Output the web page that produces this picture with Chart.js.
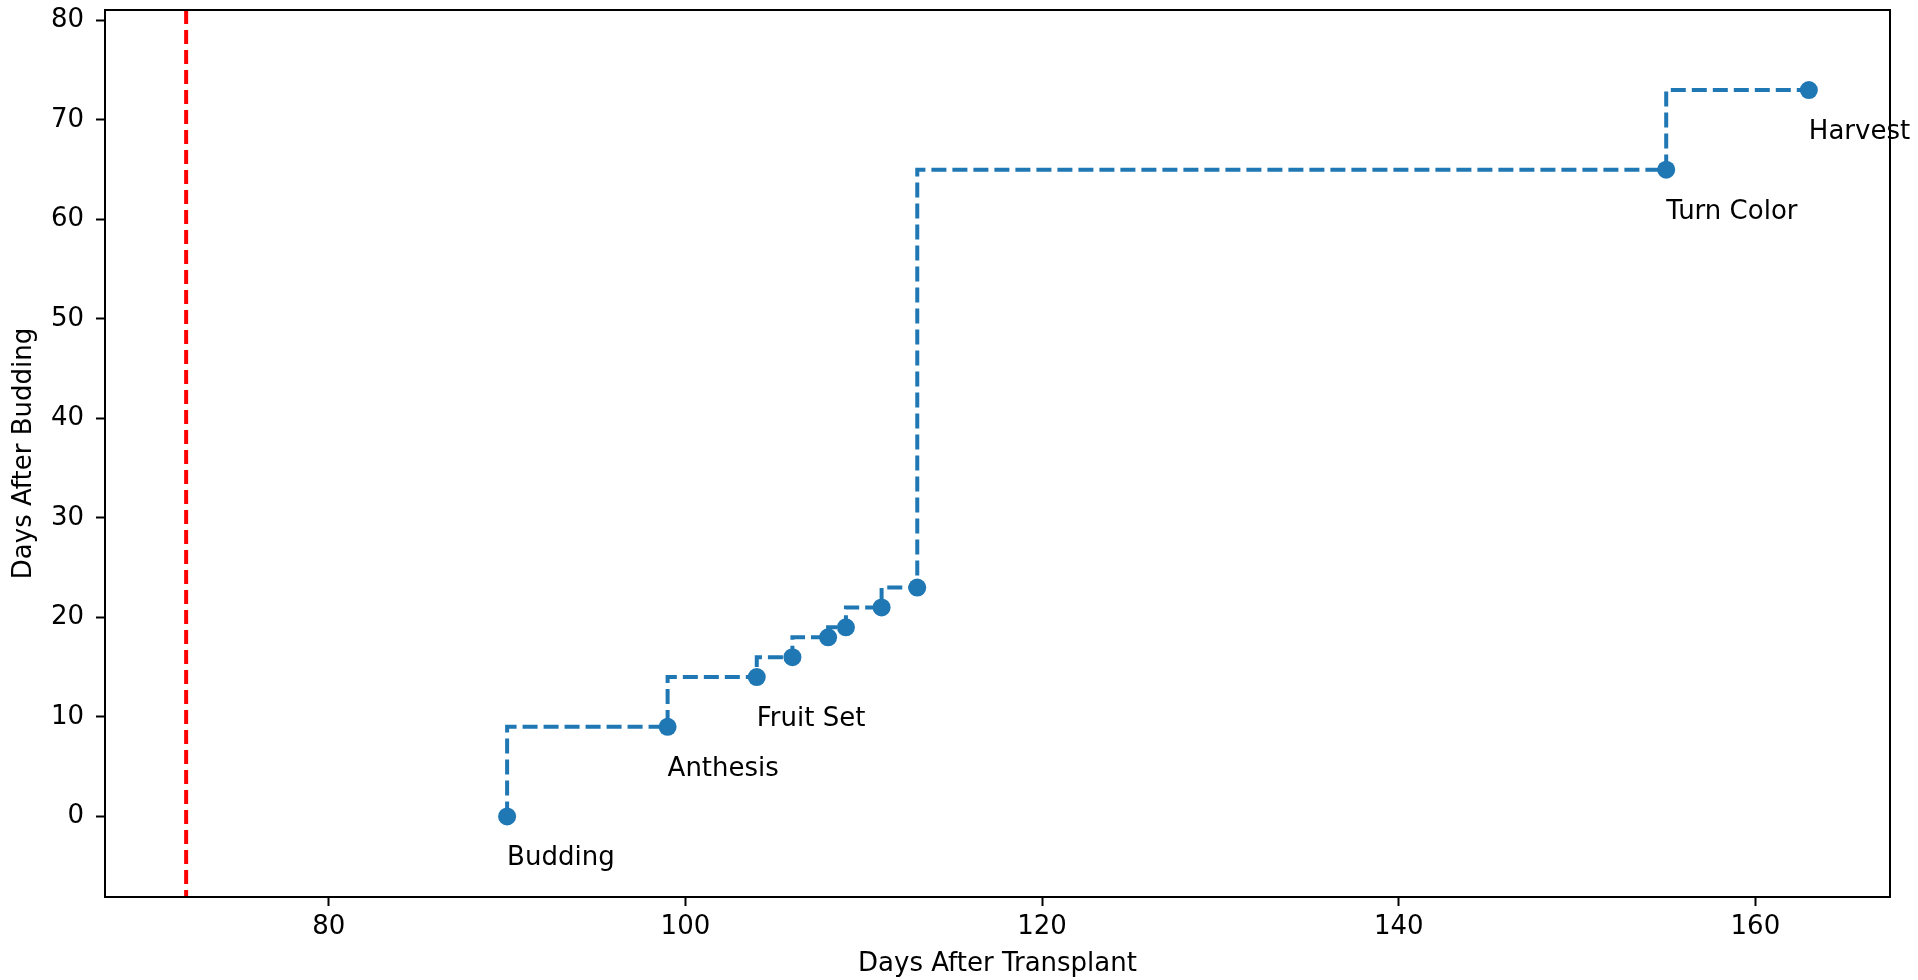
<!DOCTYPE html>
<html>
<head>
<meta charset="utf-8">
<script src="https://cdn.jsdelivr.net/npm/chart.js@4"></script>
<style>
  html, body { margin: 0; padding: 0; background: #fff; }
  #wrap { width: 1918px; height: 980px; }
</style>
</head>
<body>
<div id="wrap"><canvas id="stage-chart"></canvas></div>
<script>
// days after transplant / days after budding for each observation
var daysTransplant = [90, 99, 104, 106, 108, 109, 111, 113, 155, 163];
var daysBudding = [0, 9, 14, 16, 18, 19, 21, 23, 65, 73];
var stageNames = ["Budding", "Anthesis", "Fruit Set", "", "", "", "", "", "Turn Color", "Harvest"];
var transplantMark = [72];   // red dashed reference line
var xTicks = [80, 100, 120, 140, 160];
var yTicks = [0, 10, 20, 30, 40, 50, 60, 70, 80];

var FONT = "DejaVu Sans";
var blue = "#1f77b4";

var points = daysTransplant.map(function (d, i) { return {x: d, y: daysBudding[i]}; });

// red dashed line + stage names + full frame
var extras = {
    id: "extras",
    beforeDatasetsDraw: function (chart) {
        var c = chart.ctx, a = chart.chartArea, xs = chart.scales.x;
        c.save();
        c.strokeStyle = "#ff0000";
        c.lineWidth = 4;
        c.setLineDash([14, 6]);
        transplantMark.forEach(function (v) {
            var px = xs.getPixelForValue(v);
            c.beginPath();
            c.moveTo(px, a.top);
            c.lineTo(px, a.bottom);
            c.stroke();
        });
        c.restore();
    },
    afterDatasetsDraw: function (chart) {
        var c = chart.ctx, a = chart.chartArea;
        var xs = chart.scales.x, ys = chart.scales.y;
        c.save();
        c.font = "26px '" + FONT + "'";
        c.fillStyle = "#000";
        c.textAlign = "left";
        c.textBaseline = "alphabetic";
        stageNames.forEach(function (name, i) {
            if (!name) return;
            c.fillText(name, xs.getPixelForValue(daysTransplant[i]), ys.getPixelForValue(daysBudding[i]) + 49);
        });
        c.strokeStyle = "#000";
        c.lineWidth = 2;
        c.strokeRect(a.left, a.top, a.right - a.left, a.bottom - a.top);
        c.restore();
    }
};

var ctx = document.getElementById("stage-chart");
var chart = new Chart(ctx, {
    type: "line",
    data: {
        datasets: [{
            data: points,
            stepped: "after",
            borderColor: blue,
            borderWidth: 4,
            borderDash: [15, 6],
            pointRadius: 9,
            pointBackgroundColor: blue,
            pointBorderWidth: 0,
            fill: false
        }]
    },
    options: {
        responsive: true,
        maintainAspectRatio: false,
        animation: false,
        layout: { padding: { top: 10, right: 28, left: 0, bottom: 0 } },
        plugins: {
            legend: { display: false },
            tooltip: { enabled: false }
        },
        scales: {
            x: {
                type: "linear",
                min: 67.45,
                max: 167.55,
                afterBuildTicks: function (s) { s.ticks = xTicks.map(function (v) { return {value: v}; }); },
                afterFit: function (s) { s.height = 83; s.paddingLeft = 0; s.paddingRight = 0; },
                grid: { drawOnChartArea: false, drawTicks: true, tickLength: 9, tickColor: "#000", tickWidth: 2 },
                border: { display: true, color: "#000", width: 2 },
                ticks: { color: "#000", padding: 6, maxRotation: 0, font: { family: FONT, size: 26 } },
                title: {
                    display: true,
                    text: "Days After Transplant",
                    color: "#000",
                    padding: { top: 0, bottom: 0 },
                    font: { family: FONT, size: 26, lineHeight: 1.2 }
                }
            },
            y: {
                type: "linear",
                min: -8.1,
                max: 81.05,
                afterBuildTicks: function (s) { s.ticks = yTicks.map(function (v) { return {value: v}; }); },
                afterFit: function (s) { s.width = 105; s.paddingTop = 0; s.paddingBottom = 0; },
                grid: { drawOnChartArea: false, drawTicks: true, tickLength: 9, tickColor: "#000", tickWidth: 2 },
                border: { display: true, color: "#000", width: 2 },
                ticks: { color: "#000", padding: 12, font: { family: FONT, size: 26 } },
                title: {
                    display: true,
                    text: "Days After Budding",
                    color: "#000",
                    padding: { top: 9, bottom: 0 },
                    font: { family: FONT, size: 26, lineHeight: 1.2 }
                }
            }
        }
    },
    plugins: [extras]
});
</script>
</body>
</html>
